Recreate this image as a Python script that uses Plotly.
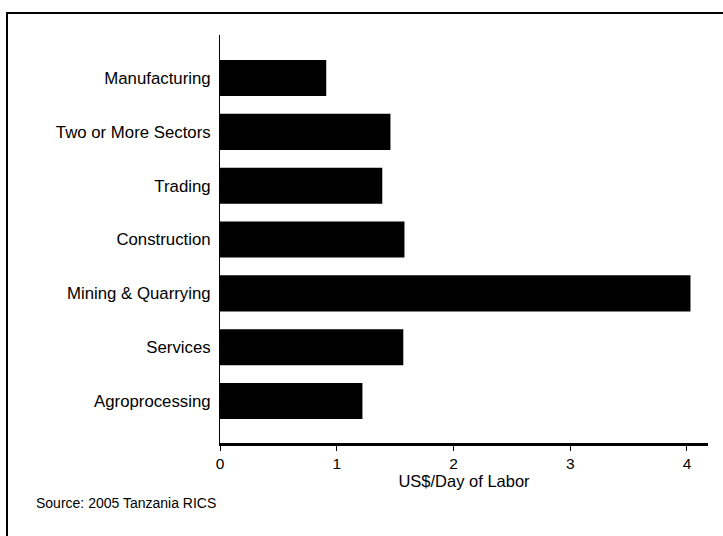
import plotly.graph_objects as go

categories = ["Manufacturing", "Two or More Sectors", "Trading", "Construction",
              "Mining & Quarrying", "Services", "Agroprocessing"]
values = [0.91, 1.46, 1.39, 1.58, 4.03, 1.57, 1.22]
x_ticks = [0, 1, 2, 3, 4]
x_title = "US$/Day of Labor"
source_note = "Source: 2005 Tanzania RICS"

FONT = "Liberation Sans, Arial, sans-serif"

W, H = 723, 536
L, R, T, B = 220, 15, 35, 93
PW, PH = W - L - R, H - T - B

fig = go.Figure(go.Bar(
    x=values, y=categories, orientation="h",
    marker=dict(color="black", line=dict(width=0)),
    width=0.67,
))

fig.update_layout(
    width=W, height=H,
    margin=dict(l=L, r=R, t=T, b=B, autoexpand=False),
    paper_bgcolor="white", plot_bgcolor="white",
    showlegend=False,
    font=dict(family=FONT, color="black", size=16),
    xaxis=dict(
        range=[0, 4.18], tickvals=x_ticks, ticktext=[str(t) for t in x_ticks],
        showgrid=False, zeroline=False,
        showline=True, linecolor="black", linewidth=2.5,
        ticks="outside", ticklen=5, tickwidth=1, tickcolor="black",
        tickfont=dict(size=15.5),
        title=dict(text=x_title, font=dict(size=16.5), standoff=0),
    ),
    yaxis=dict(
        categoryorder="array", categoryarray=categories[::-1],
        range=[-0.78, 6.8],
        showgrid=False, zeroline=False,
        showline=True, linecolor="black", linewidth=1,
        ticks="", tickfont=dict(size=16.8), ticklabelstandoff=5,
    ),
)

# frame lines (top and left), like the scanned box
ytop = (H - 13 - B) / PH
fig.add_shape(type="line", xref="paper", yref="paper",
              x0=-(L - 6) / PW, x1=(W - L) / PW, y0=ytop, y1=ytop,
              line=dict(color="black", width=2))
fig.add_shape(type="line", xref="paper", yref="paper",
              x0=-(L - 7) / PW, x1=-(L - 7) / PW, y0=ytop, y1=-B / PH,
              line=dict(color="black", width=2))

fig.add_annotation(text=source_note, xref="paper", yref="paper",
                   x=-(L - 34) / PW, y=-(503 - (H - B)) / PH, xanchor="left", yanchor="middle",
                   showarrow=False, font=dict(size=14, family=FONT, color="black"))

fig.write_html("out.html", config={"displayModeBar": False},
               post_script="document.body.style.margin='0';")
